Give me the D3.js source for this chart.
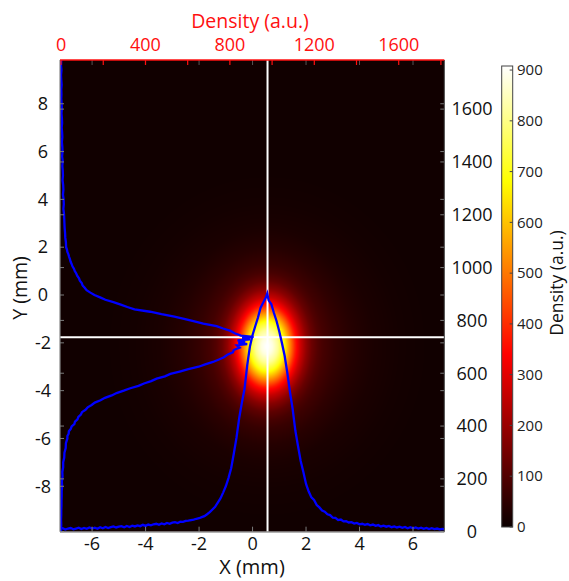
<!DOCTYPE html>
<html><head><meta charset="utf-8">
<script src="https://cdn.jsdelivr.net/npm/d3@7"></script>
<style>
body{margin:0;background:#fff}
svg{display:block}
text{font-family:"Open Sans",sans-serif}
</style>
</head><body><svg id="c" width="569" height="581"></svg>
<script>
// ---------- data ----------
const xTicks = [-6,-4,-2,0,2,4,6];
const yTicks = [-8,-6,-4,-2,0,2,4,6,8];
const topTicks = [0,200,400,600,800,1000,1200,1400,1600,1800];
const topLabels = [0,400,800,1200,1600];
const rightTicks = [0,200,400,600,800,1000,1200,1400,1600];
const cbTicks = [0,100,200,300,400,500,600,700,800,900];

const crossX = 0.56;
const crossY = -1.77;

// horizontal lineout (density vs X), plotted on right axis
const profXPos = [-7.2,-7.1,-7.0,-6.9,-6.8,-6.7,-6.6,-6.5,-6.4,-6.3,-6.2,-6.1,-6.0,-5.9,-5.8,-5.7,-5.6,-5.5,-5.4,-5.3,-5.2,-5.1,-5.0,-4.9,-4.8,-4.7,-4.6,-4.5,-4.4,-4.3,-4.2,-4.1,-4.0,-3.9,-3.8,-3.7,-3.6,-3.5,-3.4,-3.3,-3.2,-3.1,-3.0,-2.9,-2.8,-2.7,-2.6,-2.5,-2.4,-2.3,-2.2,-2.1,-2.0,-1.9,-1.8,-1.7,-1.6,-1.5,-1.4,-1.3,-1.2,-1.1,-1.0,-0.9,-0.8,-0.7,-0.6,-0.5,-0.4,-0.3,-0.2,-0.1,0.0,0.1,0.2,0.3,0.4,0.5,0.55,0.6,0.7,0.8,0.9,1.0,1.1,1.2,1.3,1.4,1.5,1.6,1.7,1.8,1.9,2.0,2.1,2.2,2.3,2.4,2.5,2.6,2.7,2.8,2.9,3.0,3.1,3.2,3.3,3.4,3.5,3.6,3.7,3.8,3.9,4.0,4.1,4.2,4.3,4.4,4.5,4.6,4.7,4.8,4.9,5.0,5.1,5.2,5.3,5.4,5.5,5.6,5.7,5.8,5.9,6.0,6.1,6.2,6.3,6.4,6.5,6.6,6.7,6.8,6.9,7.0,7.1,7.17];
const profXVal = [10,13,8,12,14,9,12,15,10,14,11,16,12,15,11,17,13,18,14,17,20,16,19,21,17,22,18,23,20,24,21,26,22,27,24,28,30,26,31,28,33,30,34,36,33,38,37,41,42,44,46,49,51,55,59,66,74,84,94,110,126,148,172,203,240,296,356,430,488,540,630,700,745,778,810,848,868,888,902,876,862,828,797,758,714,666,602,528,464,383,324,268,226,181,152,130,120,101,92,80,76,66,63,53,52,44,46,39,40,35,36,31,33,28,30,26,29,24,27,22,25,20,23,19,22,17,20,16,19,15,18,13,17,13,16,12,15,11,14,10,13,10,12,9,11,10];

// vertical lineout (density vs Y), plotted on top axis
const profYPos = [9.83,9.6,9.4,9.2,9.0,8.8,8.6,8.4,8.2,8.0,7.8,7.6,7.4,7.2,7.0,6.8,6.6,6.4,6.2,6.0,5.8,5.6,5.4,5.2,5.0,4.8,4.6,4.4,4.2,4.0,3.8,3.6,3.4,3.2,3.0,2.8,2.6,2.4,2.2,2.0,1.9,1.8,1.7,1.6,1.5,1.4,1.3,1.2,1.1,1.0,0.9,0.8,0.7,0.6,0.5,0.4,0.3,0.2,0.1,0.0,-0.1,-0.2,-0.3,-0.4,-0.5,-0.6,-0.7,-0.8,-0.9,-1.0,-1.1,-1.2,-1.3,-1.4,-1.5,-1.6,-1.7,-1.75,-1.8,-1.85,-1.9,-1.95,-2.0,-2.05,-2.1,-2.2,-2.3,-2.4,-2.5,-2.6,-2.7,-2.8,-2.9,-3.0,-3.1,-3.2,-3.3,-3.4,-3.5,-3.6,-3.7,-3.8,-3.9,-4.0,-4.1,-4.2,-4.3,-4.4,-4.5,-4.6,-4.7,-4.8,-4.9,-5.0,-5.1,-5.2,-5.3,-5.4,-5.5,-5.6,-5.7,-5.8,-5.9,-6.0,-6.2,-6.4,-6.6,-6.8,-7.0,-7.2,-7.4,-7.6,-7.8,-8.0,-8.2,-8.4,-8.6,-8.8,-9.0,-9.2,-9.4,-9.6,-9.8,-9.9];
const profYVal = [1,0,2,0,1,3,1,2,1,3,4,2,4,5,3,5,6,4,6,7,5,8,6,8,9,7,10,11,9,12,13,11,14,15,16,17,19,20,23,24,28,30,35,38,42,45,50,54,61,65,72,77,85,89,98,102,112,121,139,158,185,210,248,283,314,348,422,476,537,583,632,674,737,768,803,823,852,912,858,896,836,872,840,882,833,846,818,814,788,772,748,720,683,652,603,562,518,492,453,427,393,367,328,297,263,240,208,187,160,145,126,116,99,94,82,78,66,63,50,46,37,36,30,30,23,22,16,15,10,10,6,7,4,5,3,3,2,2,1,1,0,1,0,0];

// image: elliptical core + elliptical halo (radius in mm vs density)
const heatCenterX = 0.53;
const heatCenterY = -2.15;
const heatCoreSX = 1.05;
const heatCoreSY = 1.72;
const heatCoreR = [0,0.2,0.4,0.6,0.8,1.0,1.2,1.4,1.6,1.8,2.0,2.4,3.0];
const heatCoreV = [810,780,712,600,445,290,180,105,56,30,16,5,0];
const heatHaloSX = 1.0;
const heatHaloSY = 1.2;
const heatHaloR = [0,0.5,1,1.5,2,2.5,3,3.5,4,5,6];
const heatHaloV = [95,92,85,75,62,48,35,24,15,6,2];
const heatFloor = 8;
const cMax = 908;

// ---------- layout ----------
const svg = d3.select('#c');
const L = 60, R = 444.3, T = 60, B = 531.7;
const x = d3.scaleLinear().domain([-7.2, 7.17]).range([L, R]);
const y = d3.scaleLinear().domain([-9.9, 9.83]).range([B, T]);
const xTop = d3.scaleLinear().domain([-5, 1816]).range([L, R]);
const yRight = d3.scaleLinear().domain([0, 1786]).range([B, T]);

// MATLAB-like "hot" colormap (continuous)
const hotStops = [0, 3/8, 6/8, 1];
const hotCols = ['#0a0000', '#ff0000', '#ffff00', '#ffffff'];
const color = d3.scaleLinear().domain(hotStops.map(s => s * cMax)).range(hotCols)
  .interpolate(d3.interpolateRgb).clamp(true);

// ---------- heatmap ----------
const core = d3.scaleLinear().domain(heatCoreR).range(heatCoreV).clamp(true);
const halo = d3.scaleLinear().domain(heatHaloR).range(heatHaloV).clamp(true);
const W = Math.round(R - L), H = Math.round(B - T);
const cv = document.createElement('canvas');
cv.width = W; cv.height = H;
const ctx = cv.getContext('2d');
const img = ctx.createImageData(W, H);
for (let j = 0; j < H; j++) {
  const Y = y.invert(T + j + 0.5);
  for (let i = 0; i < W; i++) {
    const X = x.invert(L + i + 0.5);
    const re = Math.hypot((X - heatCenterX) / heatCoreSX, (Y - heatCenterY) / heatCoreSY);
    const rh = Math.hypot((X - heatCenterX) / heatHaloSX, (Y - heatCenterY) / heatHaloSY);
    const v = heatFloor + core(re) + halo(rh);
    const c = d3.rgb(color(v));
    const k = (j * W + i) * 4;
    img.data[k] = c.r; img.data[k + 1] = c.g; img.data[k + 2] = c.b; img.data[k + 3] = 255;
  }
}
ctx.putImageData(img, 0, 0);
svg.append('image').attr('x', L).attr('y', T).attr('width', R - L).attr('height', B - T)
  .attr('preserveAspectRatio', 'none').attr('href', cv.toDataURL());

svg.append('clipPath').attr('id', 'clip').append('rect')
  .attr('x', L).attr('y', T).attr('width', R - L).attr('height', B - T);
const plot = svg.append('g').attr('clip-path', 'url(#clip)');

// crosshair
plot.append('line').attr('x1', x(crossX)).attr('x2', x(crossX)).attr('y1', T).attr('y2', B)
  .attr('stroke', '#fff').attr('stroke-width', 2);
plot.append('line').attr('x1', L).attr('x2', R).attr('y1', y(crossY)).attr('y2', y(crossY))
  .attr('stroke', '#fff').attr('stroke-width', 2);

// lineouts
const lineX = d3.line().x((d, i) => x(profXPos[i])).y(d => yRight(d));
plot.append('path').attr('d', lineX(profXVal)).attr('fill', 'none')
  .attr('stroke', '#0000ff').attr('stroke-width', 2.3).attr('stroke-linejoin', 'miter');
const lineY = d3.line().x(d => xTop(d)).y((d, i) => y(profYPos[i]));
plot.append('path').attr('d', lineY(profYVal)).attr('fill', 'none')
  .attr('stroke', '#0000ff').attr('stroke-width', 2.3).attr('stroke-linejoin', 'miter');

// ---------- axes frame & ticks ----------
const tickCol = '#7a7a7a';
const g = svg.append('g');
xTicks.forEach(t => {
  g.append('line').attr('x1', x(t)).attr('x2', x(t)).attr('y1', B).attr('y2', B - 5).attr('stroke', tickCol);
  g.append('line').attr('x1', x(t)).attr('x2', x(t)).attr('y1', T).attr('y2', T + 5).attr('stroke', '#555');
  g.append('text').attr('x', x(t)).attr('y', 550).attr('text-anchor', 'middle')
    .attr('font-size', 18).attr('fill', '#111').text(t);
});
yTicks.forEach(t => {
  g.append('line').attr('x1', L).attr('x2', L + 4).attr('y1', y(t)).attr('y2', y(t)).attr('stroke', tickCol);
  g.append('line').attr('x1', R).attr('x2', R - 4).attr('y1', y(t)).attr('y2', y(t)).attr('stroke', tickCol);
  g.append('text').attr('x', 43).attr('y', y(t)).attr('dy', '0.35em').attr('text-anchor', 'middle')
    .attr('font-size', 18).attr('fill', '#111').text(t);
});
rightTicks.forEach(t => {
  g.append('line').attr('x1', R).attr('x2', R - 4).attr('y1', yRight(t)).attr('y2', yRight(t)).attr('stroke', tickCol);
  g.append('line').attr('x1', L).attr('x2', L + 4).attr('y1', yRight(t)).attr('y2', yRight(t)).attr('stroke', tickCol);
  g.append('text').attr('x', 472).attr('y', yRight(t)).attr('dy', '0.35em').attr('text-anchor', 'middle')
    .attr('font-size', 18).attr('fill', '#111').text(t);
});
g.append('line').attr('x1', L).attr('x2', L).attr('y1', T).attr('y2', B).attr('stroke', '#888').attr('stroke-width', 1.2);
g.append('line').attr('x1', L).attr('x2', R).attr('y1', B + 0.5).attr('y2', B + 0.5).attr('stroke', '#999').attr('stroke-width', 1.2);
g.append('line').attr('x1', R).attr('x2', R).attr('y1', T).attr('y2', B).attr('stroke', '#444').attr('stroke-width', 1);
const red = '#ff1010';
g.append('line').attr('x1', L).attr('x2', R).attr('y1', T).attr('y2', T).attr('stroke', red).attr('stroke-width', 1.4);
topTicks.forEach(t => {
  g.append('line').attr('x1', xTop(t)).attr('x2', xTop(t)).attr('y1', T).attr('y2', T + 5).attr('stroke', red).attr('stroke-width', 1.2);
});
topLabels.forEach(t => {
  g.append('text').attr('x', xTop(t)).attr('y', 51).attr('text-anchor', 'middle')
    .attr('font-size', 18).attr('fill', red).text(t);
});

svg.append('text').attr('x', 250).attr('y', 28).attr('text-anchor', 'middle')
  .attr('font-size', 19.5).attr('fill', red).text('Density (a.u.)');
svg.append('text').attr('x', 252).attr('y', 574).attr('text-anchor', 'middle')
  .attr('font-size', 20).attr('fill', '#111').text('X (mm)');
svg.append('text').attr('transform', 'translate(27,288) rotate(-90)').attr('text-anchor', 'middle')
  .attr('font-size', 19.5).attr('fill', '#111').text('Y (mm)');

// ---------- colorbar ----------
const cbL = 501.7, cbW = 11;
const cy = d3.scaleLinear().domain([0, cMax]).range([527, 66]);
const cb = svg.append('g');
const defs = svg.append('defs');
const grad = defs.append('linearGradient').attr('id', 'cbg')
  .attr('x1', 0).attr('y1', 1).attr('x2', 0).attr('y2', 0);
hotStops.forEach((s, i) => grad.append('stop').attr('offset', s).attr('stop-color', hotCols[i]));
cb.append('rect').attr('x', cbL).attr('y', cy(cMax)).attr('width', cbW).attr('height', cy(0) - cy(cMax))
  .attr('fill', 'url(#cbg)').attr('stroke', '#444').attr('stroke-width', 1);
cbTicks.forEach(t => {
  cb.append('line').attr('x1', cbL + cbW).attr('x2', cbL + cbW - 3).attr('y1', cy(t)).attr('y2', cy(t)).attr('stroke', '#444');
  cb.append('text').attr('x', 517).attr('y', cy(t)).attr('dy', '0.35em')
    .attr('font-size', 15).attr('fill', '#222').text(t);
});
svg.append('text').attr('transform', 'translate(563,283) rotate(-90)').attr('text-anchor', 'middle')
  .attr('font-size', 17.5).attr('fill', '#111').text('Density (a.u.)');
</script>
</body></html>
